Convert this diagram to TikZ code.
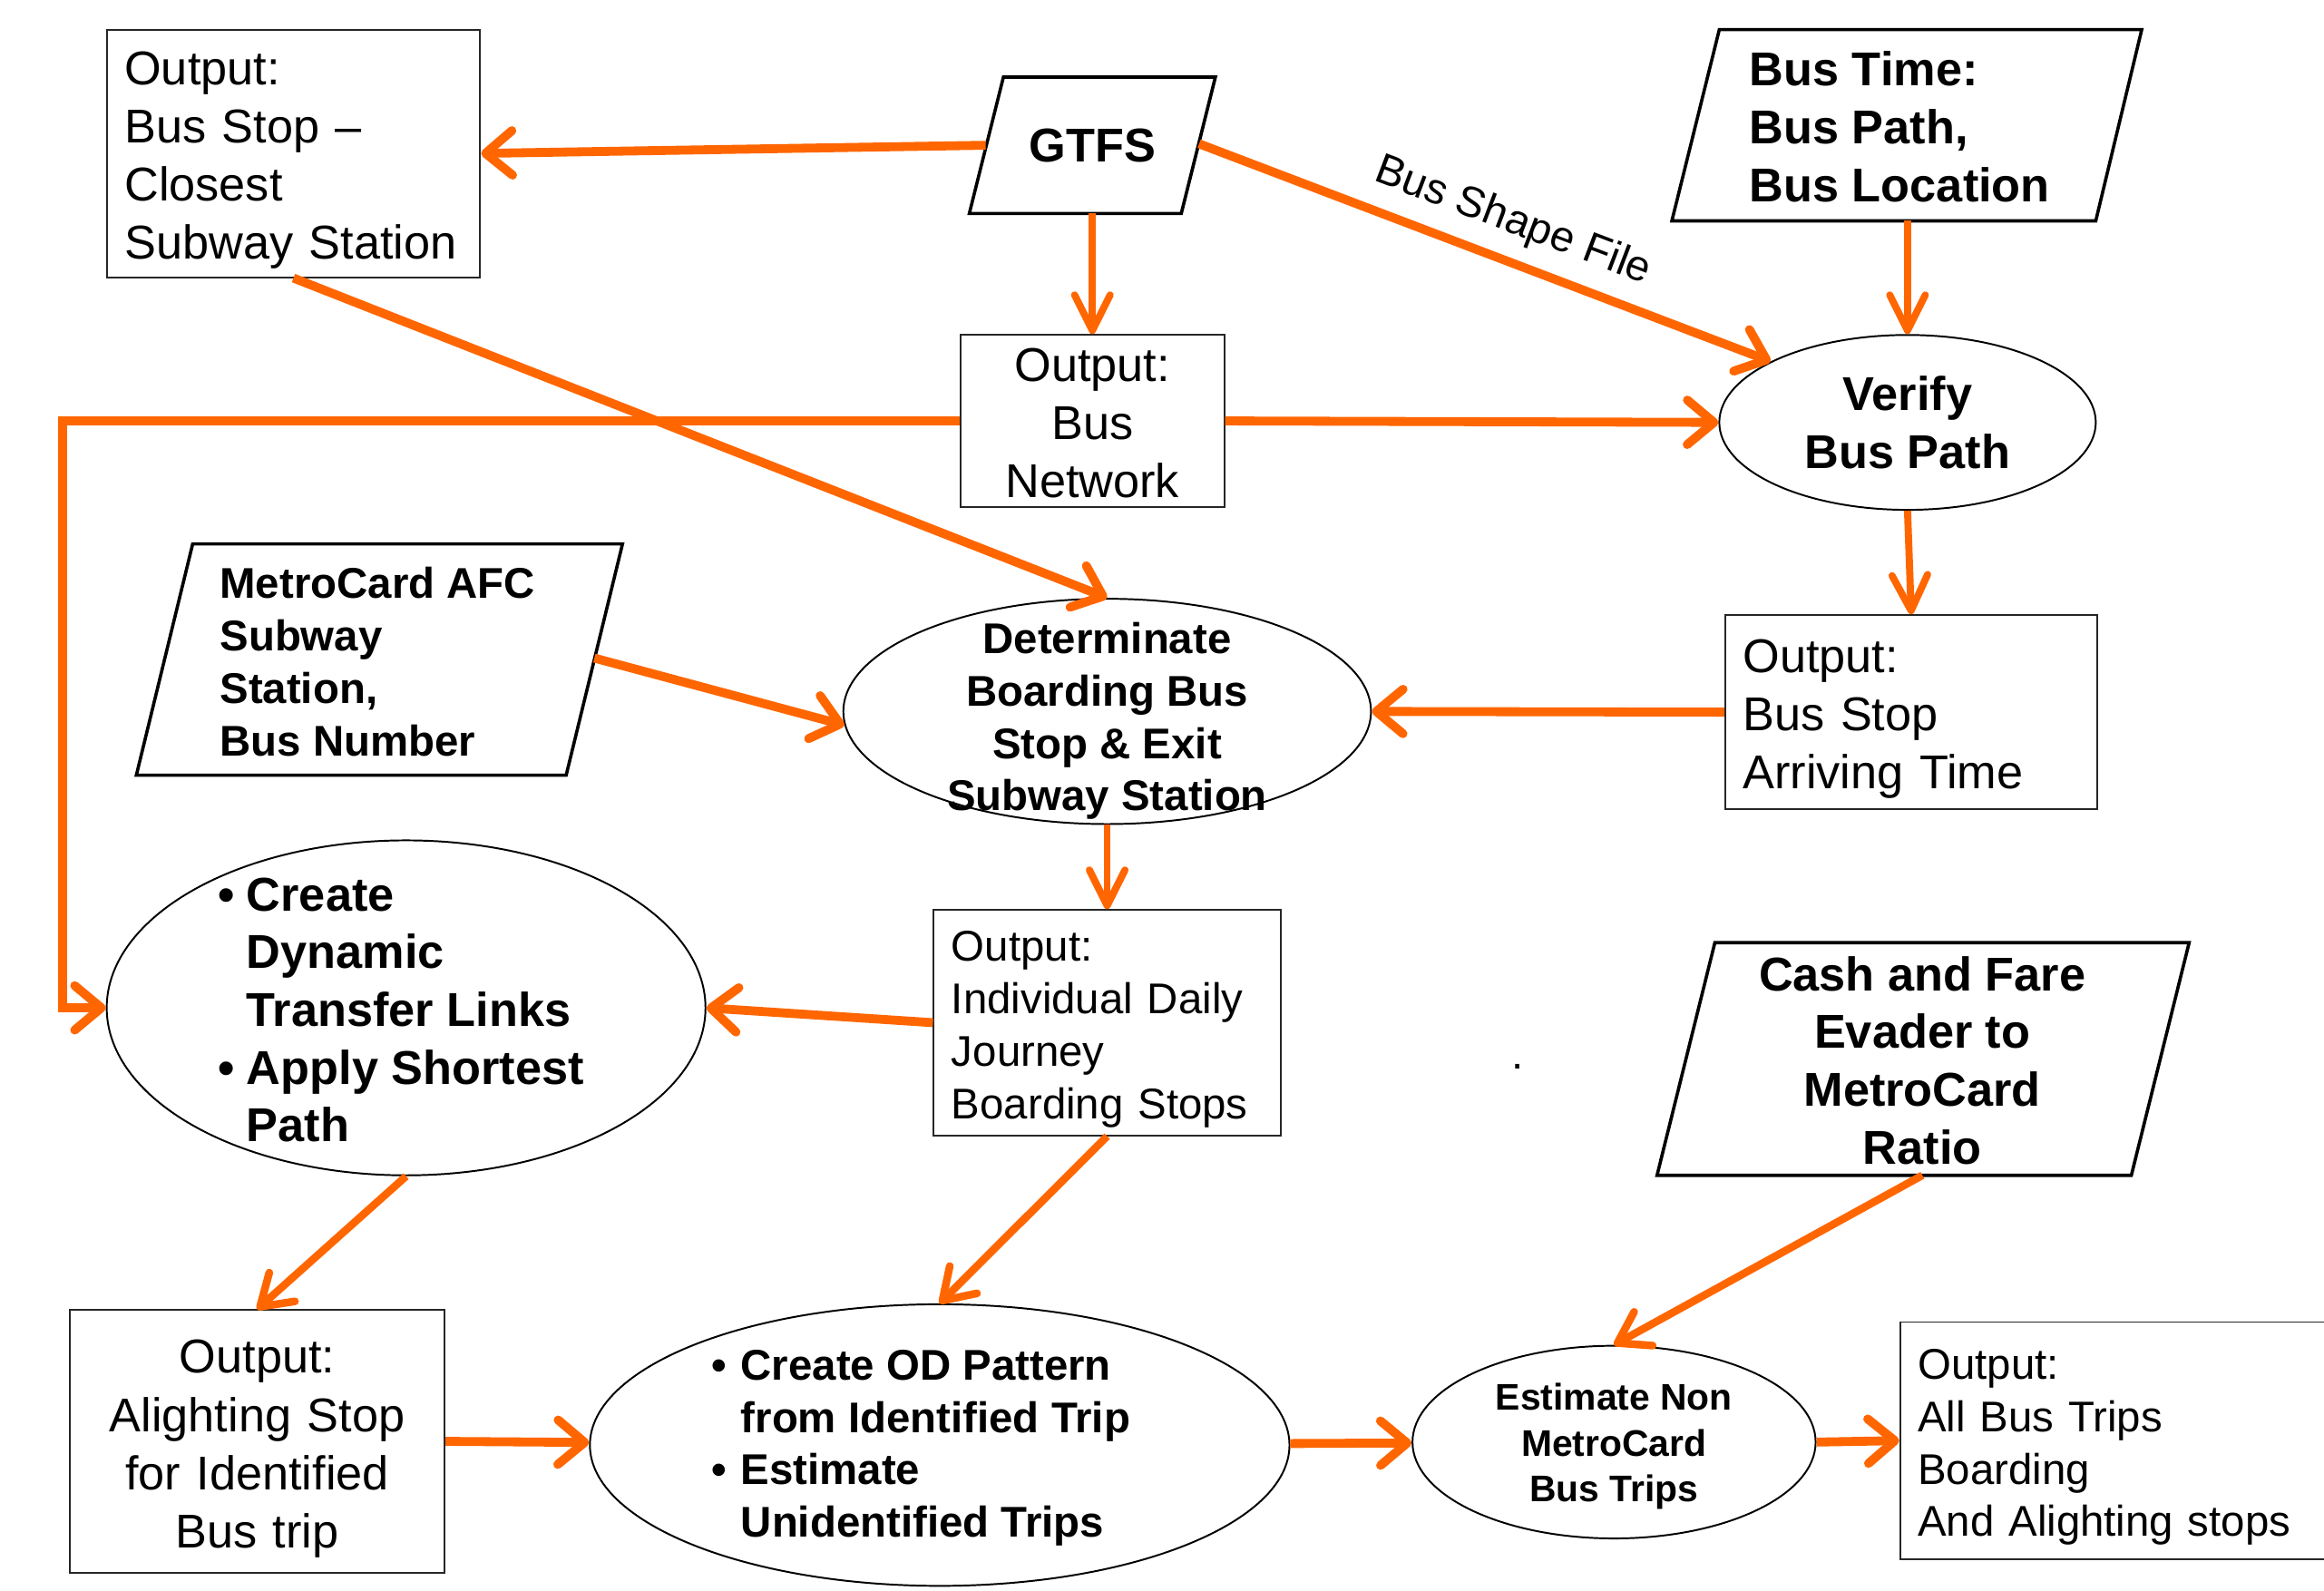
\documentclass[tikz,border=0pt]{standalone}
\usepackage{fontspec}
\setmainfont{Liberation Sans}
\usetikzlibrary{arrows.meta,shapes.geometric}
\definecolor{orng}{RGB}{255,102,0}
\newcommand\bulA{\makebox[9.5pt][l]{•}}
\newcommand\indA{\makebox[9.5pt]{}}
\newcommand\bulB{\makebox[10pt][l]{•}}
\newcommand\indB{\makebox[10pt]{}}
\tikzset{
  box/.style={draw=black!85, line width=0.6pt, rectangle, inner sep=0pt},
  ell/.style={draw=black, line width=0.6pt, ellipse, inner sep=0pt},
  para/.style={draw=black, line width=1.1pt, line join=miter},
  conn/.style={draw=orng, line width=3pt, -{Straight Barb[length=9pt,width=15pt,round]}},
  connthin/.style={draw=orng, line width=2.4pt, -{Straight Barb[length=12pt,width=12pt,round]}},
  conndiag/.style={draw=orng, line width=2.6pt, -{Straight Barb[length=10pt,width=13pt,round]}},
  fA/.style={font=\fontsize{16}{19.6}\selectfont},
  fAb/.style={font=\fontsize{16}{19.5}\selectfont\bfseries},
  fB/.style={font=\fontsize{14.5}{17.7}\selectfont},
  fBb/.style={font=\fontsize{14.5}{17.7}\selectfont\bfseries},
  fC/.style={font=\fontsize{12.5}{15.5}\selectfont\bfseries},
  txt/.style={inner sep=0pt},
}
\begin{document}
\begin{tikzpicture}[x=0.5pt,y=-0.5pt]
\useasboundingbox (0,0) rectangle (1568,1073);
\fill[white] (0,0) rectangle (1568,1073);

% ---------- parallelograms (inputs) ----------
\draw[para] (677,52) -- (820,52) -- (797,144) -- (654,144) -- cycle;
\node[fAb, txt] (gtfs) at (737,98) {GTFS};
\coordinate (gtfsW) at (665,98);
\coordinate (gtfsS) at (737,144);
\coordinate (gtfsE) at (809,97);

\draw[para] (1160,20) -- (1445,20) -- (1414,149) -- (1128,149) -- cycle;
\node[fAb, txt, align=left, anchor=west] (bustime) at (1180,85.5) {Bus Time:\\Bus Path,\\Bus Location};
\coordinate (bustimeS) at (1287,149);

\draw[para] (130,367) -- (420,367) -- (382,523) -- (92,523) -- cycle;
\node[fBb, txt, align=left, anchor=west] (metro) at (148,446.5) {MetroCard AFC\\Subway\\Station,\\Bus Number};
\coordinate (metroE) at (401,444);

\draw[para] (1157,636) -- (1477,636) -- (1438,793) -- (1118,793) -- cycle;
\node[fAb, txt, align=center] (cash) at (1297,715.5) {Cash and Fare\\Evader to\\MetroCard\\Ratio};
\coordinate (cashS) at (1297,793);

% ---------- rectangular output boxes ----------
\node[box, minimum width=126pt, minimum height=83.5pt] (b1) at (198,103.5) {};
\node[fA, txt, text width=114pt, align=left] (b1t) at (198,108) {Output:\\Bus Stop –\\Closest\\Subway Station};

\node[box, minimum width=89pt, minimum height=58pt] (b2) at (737,284) {};
\node[fA, txt, text width=77pt, align=center] (b2t) at (737,285.5) {Output:\\Bus\\Network};

\node[box, minimum width=125.5pt, minimum height=65.5pt] (b3) at (1289.5,480.5) {};
\node[fA, txt, text width=113.5pt, align=left] (b3t) at (1289.5,485) {Output:\\Bus Stop\\Arriving Time};

\node[box, minimum width=117pt, minimum height=76pt] (b4) at (747,690) {};
\node[fB, txt, text width=105pt, align=left] (b4t) at (747,694.5) {Output:\\Individual Daily\\Journey\\Boarding Stops};

\node[box, minimum width=126.5pt, minimum height=88.5pt] (b5) at (173.5,972.5) {};
\node[fA, txt, text width=114.5pt, align=center] (b5t) at (173.5,977.5) {Output:\\Alighting Stop\\for Identified\\Bus trip};

\node[box, minimum width=144pt, minimum height=80pt] (b6) at (1426,972) {};
\node[fB, txt, text width=132pt, align=left] (b6t) at (1426,976.5) {Output:\\All Bus Trips\\Boarding\\And Alighting stops};

% ---------- ellipses (processes) ----------
\node[ell, minimum width=127pt, minimum height=59pt] (e1) at (1287,285) {};
\node[fAb, txt, align=center] (e1t) at (1287,285) {Verify\\Bus Path};

\node[ell, minimum width=178pt, minimum height=76pt] (e2) at (747,480) {};
\node[fBb, txt, align=center] (e2t) at (747,486.5) {Determinate\\Boarding Bus\\Stop \& Exit\\Subway Station};

\node[ell, minimum width=202pt, minimum height=113pt] (e3) at (274,680) {};
\node[fAb, txt, align=left, anchor=west] (e3t) at (147,681.5)
  {\bulA Create\\\indA Dynamic\\\indA Transfer Links\\\bulA Apply Shortest\\\indA Path};

\node[ell, minimum width=236pt, minimum height=95pt] (e4) at (634,975) {};
\node[fBb, txt, align=left, anchor=west] (e4t) at (479.5,977)
  {\bulB Create OD Pattern\\\indB from Identified Trip\\\bulB Estimate\\\indB Unidentified Trips};

\node[ell, minimum width=136pt, minimum height=65pt] (e5) at (1089,973) {};
\node[fC, txt, align=center] (e5t) at (1089,976) {Estimate Non\\MetroCard\\Bus Trips};

% stray dot
\node[fB, txt, anchor=base] (dot) at (1024,721) {.};

% ---------- connectors ----------
\draw[conn] (gtfsW) -- (b1.east);
\draw[connthin] (gtfsS) -- (b2.north);
\draw[conn] (gtfsE) -- (e1.156)
  node[pos=0.525, sloped, above=1.5pt, font=\fontsize{14.5}{17}\selectfont] (lbl) {Bus Shape File};
\draw[connthin] (bustimeS) -- (e1.north);
\draw[conn] (b2.east) -- (e1.west);
\coordinate (bend) at (42,284);
\draw[conn] (b2.west) -- (bend) |- (e3.west);
\draw[conn] (b1.south) -- (e2.north);
\draw[connthin] (e1.south) -- (b3.north);
\draw[conn] (b3.west) -- (e2.east);
\draw[conn] (metroE) -- (e2.183);
\draw[connthin] (e2.south) -- (b4.north);
\draw[conn] (b4.west) -- (e3.east);
\draw[conndiag] (e3.south) -- (b5.north);
\draw[conndiag] (b4.south) -- (e4.north);
\draw[conn] (b5.east) -- (e4);
\draw[conn] (e4) -- (e5);
\draw[conndiag] (cashS) -- (e5.north);
\draw[conn] (e5.east) -- (b6.west);
\end{tikzpicture}
\end{document}
